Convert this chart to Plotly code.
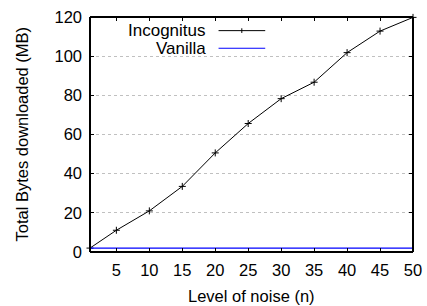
import plotly.graph_objects as go

noise = [1, 5, 10, 15, 20, 25, 30, 35, 40, 45, 50]
incognitus = [2, 11.1, 21.0, 33.5, 50.6, 65.6, 78.3, 86.7, 101.8, 112.8, 119.8]
vanilla = [2, 2, 2, 2, 2, 2, 2, 2, 2, 2, 2]
x_ticks = [5, 10, 15, 20, 25, 30, 35, 40, 45, 50]
y_ticks = [0, 20, 40, 60, 80, 100, 120]
series_names = ["Incognitus", "Vanilla"]

font = "Liberation Sans, Arial, sans-serif"

fig = go.Figure()
fig.add_trace(go.Scatter(x=noise, y=incognitus, mode="lines+markers", name=series_names[0],
                         line=dict(color="black", width=1),
                         marker=dict(symbol="cross-thin", size=5, line=dict(color="black", width=1)),
                         showlegend=False, cliponaxis=False))
fig.add_trace(go.Scatter(x=noise, y=vanilla, mode="lines", name=series_names[1],
                         line=dict(color="#0000ff", width=1.2), showlegend=False))

# Gnuplot-style legend: text right-aligned, sample to the right
leg_y = [0.942, 0.867]
for name, yy, col, mk in zip(series_names, leg_y, ["black", "#0000ff"], [True, False]):
    fig.add_annotation(xref="paper", yref="paper", x=0.36, y=yy, text=name, showarrow=False,
                       xanchor="right", yanchor="middle", xshift=2,
                       font=dict(family=font, size=17, color="black"))
    fig.add_shape(type="line", xref="paper", yref="paper", x0=0.398, x1=0.5425, y0=yy, y1=yy,
                  line=dict(color=col, width=1.2 if col != "black" else 1))
    if mk:
        fig.add_shape(type="line", xref="paper", yref="paper", x0=0.470, x1=0.470, y0=yy - 0.01, y1=yy + 0.01,
                      line=dict(color=col, width=1))

# Axis titles
fig.add_annotation(xref="paper", yref="paper", x=0.5, y=-0.189, text="Level of noise (n)", showarrow=False,
                   xanchor="center", yanchor="middle", font=dict(family=font, size=16.5, color="black"))
fig.add_annotation(xref="paper", yref="paper", x=-0.2136, y=0.5, text="Total Bytes downloaded (MB)",
                   showarrow=False, textangle=-90, xanchor="center", yanchor="middle",
                   font=dict(family=font, size=16.5, color="black"))

# Frame
for (x0, y0, x1, y1) in [(0, 0, 1, 0), (0, 1, 1, 1), (0, 0, 0, 1), (1, 0, 1, 1)]:
    fig.add_shape(type="line", xref="paper", yref="paper", x0=x0, y0=y0, x1=x1, y1=y1,
                  line=dict(color="black", width=2), layer="above")

fig.update_layout(
    width=427, height=306,
    margin=dict(l=90, r=14, t=17, b=54),
    paper_bgcolor="white", plot_bgcolor="white",
    font=dict(family=font, size=16.5, color="black"),
)
fig.update_xaxes(range=[1, 50], tickvals=x_ticks, ticks="inside", ticklen=4, tickcolor="black", tickwidth=1,
                 showline=False, mirror="ticks", automargin=False,
                 showgrid=False, zeroline=False, ticklabelstandoff=6,
                 tickfont=dict(size=16.5))
fig.update_yaxes(range=[0, 120], tickvals=y_ticks, ticks="inside", ticklen=4, tickcolor="black", tickwidth=1,
                 showline=False, mirror="ticks", automargin=False,
                 showgrid=True, gridcolor="#c0c0c0", griddash="dot", gridwidth=1, zeroline=False,
                 ticklabelstandoff=7, tickfont=dict(size=16.5))

fig.write_html("out.html", config={"displayModeBar": False},
               post_script="document.body.style.margin='0';document.body.style.padding='0';")
